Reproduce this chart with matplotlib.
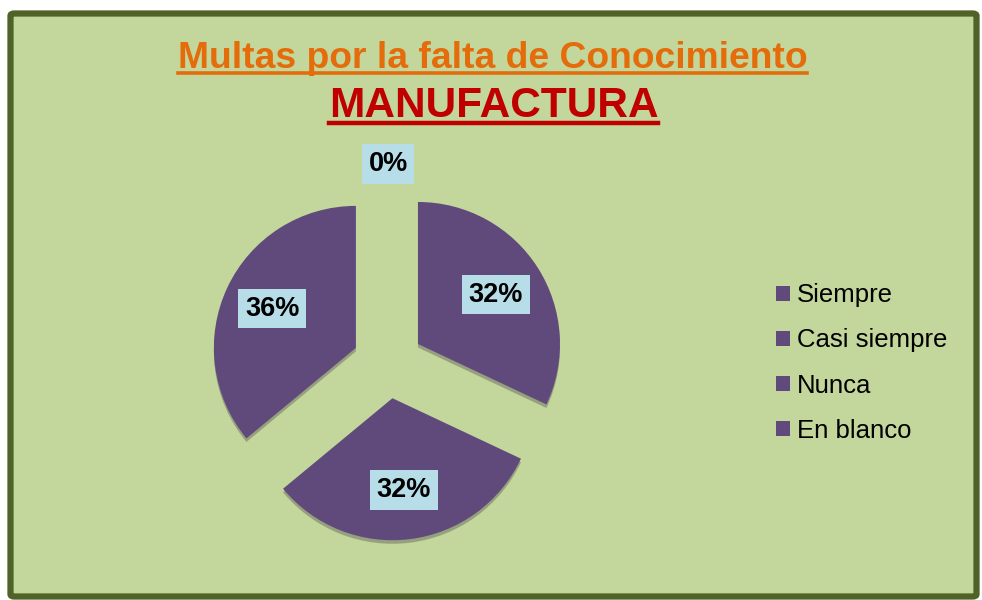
import numpy as np
import matplotlib
matplotlib.use("Agg")
import matplotlib.pyplot as plt
from matplotlib.patches import FancyBboxPatch
from matplotlib.lines import Line2D

categories = ["Siempre", "Casi siempre", "Nunca", "En blanco"]
values = [32, 32, 36, 0]
title1 = "Multas por la falta de Conocimiento"
title2 = "MANUFACTURA"

W, H = 982, 600
fig = plt.figure(figsize=(W / 100, H / 100), dpi=100)
fig.patch.set_facecolor("white")
plt.rcParams['font.family'] = ['Liberation Sans', 'DejaVu Sans']

# frame
frame = FancyBboxPatch((10.5 / W, 3.5 / H), 966 / W, 583 / H,
                       boxstyle="round,pad=0,rounding_size=0.004",
                       transform=fig.transFigure, facecolor="#C3D69B",
                       edgecolor="#4F6228", linewidth=4.5, zorder=-5)
fig.patches.append(frame)

purple = "#604A7B"
R = 142.0
cx, cy = 388.0, 600 - 363.0
size = 460.0
ax = fig.add_axes([(cx - size / 2) / W, (cy - size / 2) / H, size / W, size / H])
ax.set_zorder(2)
ax.patch.set_visible(False)
ax.axis("off")

wedges, texts, autotexts = ax.pie(
    values, explode=[0.25] * len(values), startangle=90, counterclock=False,
    colors=[purple] * len(values), autopct=lambda p: f"{p:.0f}%", pctdistance=0.65,
    radius=1.0, wedgeprops=dict(linewidth=0),
    shadow=dict(ox=0.0, oy=-0.018, shade=0.5, alpha=0.3),
    textprops=dict(fontsize=19.5, fontweight="bold", color="black"))
ax.set_aspect("equal")
ax.set_xlim(-size / 2 / R, size / 2 / R)
ax.set_ylim(-size / 2 / R, size / 2 / R)

for w, t, v in zip(wedges, autotexts, values):
    t.set_bbox(dict(boxstyle="square,pad=0.25", fc="#B7DEE8", ec="none"))
    if v == 0:
        ang = np.deg2rad((w.theta1 + w.theta2) / 2)
        t.set_position((1.4 * np.cos(ang), 1.4 * np.sin(ang)))

leg = fig.legend(wedges, categories, loc="center left",
                 bbox_to_anchor=(776 / W, 1 - 363 / H), frameon=False,
                 fontsize=18.5, handlelength=0.55, handleheight=0.55,
                 handletextpad=0.25, labelspacing=0.82, borderpad=0,
                 borderaxespad=0)
leg.set_zorder(3)

t1 = fig.text(0.5015, 1 - 68 / H, title1, ha="center", va="baseline",
              fontsize=26.8, fontweight="bold", color="#E46C0A")
t2 = fig.text(0.5025, 1 - 117 / H, title2, ha="center", va="baseline",
              fontsize=30.5, fontweight="bold", color="#C00000")

fig.canvas.draw()
r = fig.canvas.get_renderer()
for t, col, dy, lw in [(t1, "#E46C0A", 5, 2.6), (t2, "#C00000", 6, 3.2)]:
    bb = t.get_window_extent(r)
    ybase = float(t.get_position()[1]) * H - dy
    fig.add_artist(Line2D([bb.x0 / W, bb.x1 / W], [ybase / H, ybase / H],
                          transform=fig.transFigure, color=col, linewidth=lw))

fig.savefig("out.png", dpi=100, facecolor=fig.get_facecolor())
